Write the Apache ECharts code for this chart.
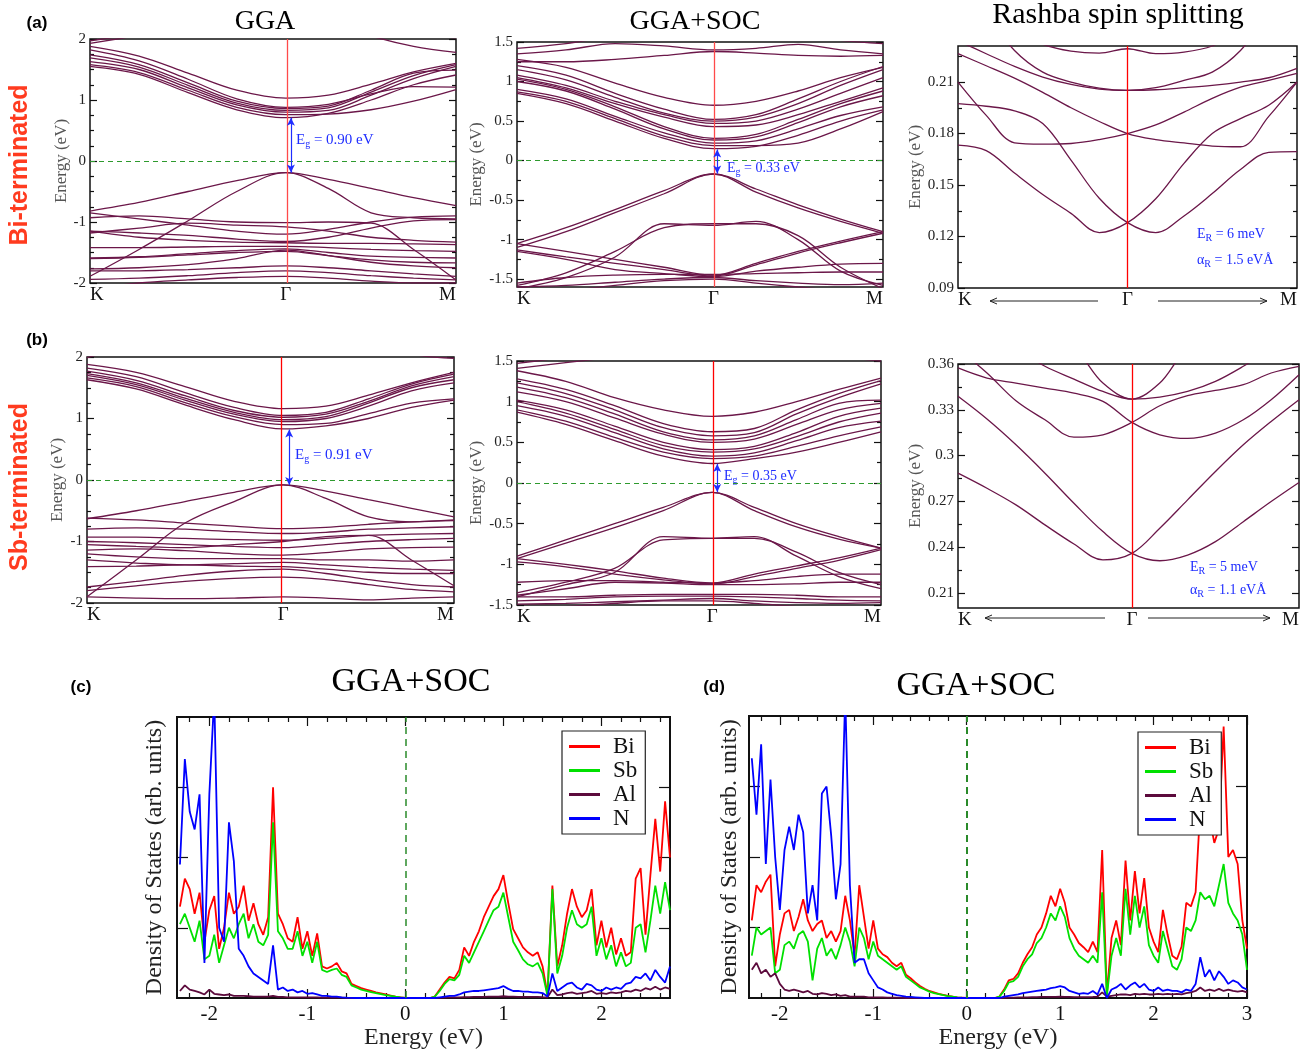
<!DOCTYPE html>
<html><head><meta charset="utf-8">
<script src="https://cdn.jsdelivr.net/npm/echarts@6.0.0/dist/echarts.min.js"></script>
<style>html,body{margin:0;padding:0;background:#fff}#c{width:1306px;height:1053px}</style>
</head><body><div id="c"></div><script>
// ---------------- DATA ----------------
// k-path grids (fraction of K->Gamma->M path)
const kA1 = [0, 0.134, 0.268, 0.401, 0.535, 0.651, 0.768, 0.884, 1];
const kA2 = [0, 0.134, 0.268, 0.402, 0.537, 0.653, 0.768, 0.884, 1];
const kB1 = [0, 0.134, 0.267, 0.401, 0.5345, 0.651, 0.767, 0.884, 1];
const kB2 = [0, 0.134, 0.268, 0.402, 0.5365, 0.652, 0.768, 0.884, 1];
const kA3 = [0, 0.0833, 0.1667, 0.25, 0.3333, 0.4167, 0.5, 0.5833, 0.6667, 0.75, 0.8333, 0.9167, 1];
const kB3 = [0, 0.085, 0.17, 0.255, 0.34, 0.425, 0.51, 0.5917, 0.6733, 0.755, 0.8367, 0.9183, 1];
const gammaA1 = 0.535, gammaA2 = 0.537, gammaA3 = 0.5, gammaB1 = 0.5345, gammaB2 = 0.5365, gammaB3 = 0.51;
const kLabels = ['K', 'Γ', 'M'];

// (a) Bi-terminated, GGA bands (eV)
const bandsA1 = [
 [1.55, 1.42, 1.12, 0.84, 0.71, 0.78, 1.00, 1.25, 1.41],
 [1.58, 1.45, 1.16, 0.88, 0.76, 0.77, 0.84, 0.98, 1.17],
 [1.63, 1.50, 1.20, 0.92, 0.80, 0.83, 1.08, 1.35, 1.55],
 [1.69, 1.54, 1.24, 0.95, 0.83, 0.87, 1.13, 1.40, 1.58],
 [1.74, 1.58, 1.28, 0.98, 0.86, 0.90, 1.16, 1.44, 1.49],
 [1.82, 1.64, 1.34, 1.02, 0.88, 0.93, 1.10, 1.22, 1.21],
 [1.88, 1.72, 1.44, 1.16, 1.03, 1.08, 1.26, 1.46, 1.60],
 [1.93, 2.06, 2.20, 2.30, 2.35, 2.30, 2.05, 1.88, 1.78],
 [1.97, 2.10, 2.30, 2.40, 2.45, 2.40, 2.30, 2.10, 2.02],
 [-0.82, -0.68, -0.50, -0.32, -0.19, -0.30, -0.45, -0.60, -0.73],
 [-1.89, -1.45, -0.98, -0.50, -0.19, -0.45, -0.85, -0.93, -0.95],
 [-0.93, -0.90, -0.95, -1.00, -1.01, -1.00, -1.02, -1.45, -1.95],
 [-0.85, -0.95, -1.05, -1.15, -1.20, -1.12, -1.00, -0.92, -0.90],
 [-1.15, -1.18, -1.22, -1.28, -1.32, -1.25, -1.10, -0.98, -0.96],
 [-1.15, -1.25, -1.30, -1.33, -1.34, -1.35, -1.35, -1.36, -1.37],
 [-1.42, -1.42, -1.41, -1.40, -1.40, -1.42, -1.45, -1.47, -1.48],
 [-1.59, -1.57, -1.52, -1.47, -1.44, -1.50, -1.56, -1.58, -1.59],
 [-1.60, -1.58, -1.54, -1.50, -1.48, -1.55, -1.62, -1.66, -1.67],
 [-1.77, -1.75, -1.70, -1.60, -1.46, -1.55, -1.66, -1.72, -1.75],
 [-1.80, -1.80, -1.78, -1.75, -1.72, -1.75, -1.80, -1.85, -1.89],
 [-1.94, -1.92, -1.88, -1.83, -1.80, -1.83, -1.88, -1.92, -1.95],
 [-2.10, -2.00, -1.95, -1.91, -1.89, -1.92, -1.97, -2.00, -2.00],
 [-1.18, -1.10, -1.02, -1.05, -1.08, -1.15, -1.25, -1.30, -1.33]
];
// (a) GGA+SOC bands
const bandsA2 = [
 [0.85, 0.72, 0.50, 0.28, 0.15, 0.18, 0.32, 0.50, 0.64],
 [0.87, 0.75, 0.53, 0.31, 0.19, 0.19, 0.22, 0.40, 0.62],
 [0.90, 0.78, 0.56, 0.35, 0.22, 0.25, 0.40, 0.57, 0.68],
 [1.00, 0.88, 0.65, 0.40, 0.26, 0.30, 0.48, 0.68, 0.82],
 [1.03, 0.90, 0.68, 0.43, 0.28, 0.33, 0.52, 0.72, 0.88],
 [1.05, 0.92, 0.72, 0.55, 0.43, 0.45, 0.58, 0.75, 0.92],
 [1.08, 0.95, 0.75, 0.58, 0.47, 0.50, 0.65, 0.85, 1.05],
 [1.15, 1.02, 0.80, 0.60, 0.50, 0.55, 0.72, 0.95, 1.15],
 [1.20, 1.08, 0.85, 0.65, 0.52, 0.58, 0.78, 1.00, 1.19],
 [1.28, 1.18, 0.98, 0.80, 0.70, 0.75, 0.88, 1.05, 1.18],
 [1.25, 1.25, 1.28, 1.33, 1.38, 1.36, 1.33, 1.32, 1.33],
 [1.35, 1.40, 1.48, 1.45, 1.40, 1.42, 1.47, 1.40, 1.35],
 [1.42, 1.48, 1.58, 1.65, 1.68, 1.65, 1.60, 1.52, 1.48],
 [-1.05, -0.85, -0.62, -0.38, -0.17, -0.36, -0.56, -0.74, -0.90],
 [-1.10, -0.90, -0.66, -0.42, -0.17, -0.40, -0.60, -0.77, -0.92],
 [-1.58, -1.42, -1.15, -0.85, -0.80, -0.80, -0.95, -1.35, -1.62],
 [-1.62, -1.48, -1.22, -0.80, -0.82, -0.77, -1.00, -1.40, -1.58],
 [-1.05, -1.15, -1.25, -1.35, -1.45, -1.30, -1.15, -1.02, -0.90],
 [-1.13, -1.22, -1.30, -1.38, -1.46, -1.32, -1.17, -1.04, -0.92],
 [-1.15, -1.25, -1.38, -1.43, -1.47, -1.40, -1.35, -1.31, -1.30],
 [-1.55, -1.48, -1.45, -1.44, -1.44, -1.43, -1.42, -1.41, -1.41],
 [-1.60, -1.58, -1.54, -1.50, -1.48, -1.52, -1.55, -1.57, -1.55],
 [-1.70, -1.65, -1.58, -1.52, -1.50, -1.55, -1.60, -1.65, -1.70]
];
// (a) Rashba zoom bands
const bandsA3 = [
 [0.1732, 0.1700, 0.1570, 0.1445, 0.1335, 0.1223, 0.1281, 0.1420, 0.1626, 0.1800, 0.1887, 0.1965, 0.2100],
 [0.1974, 0.1959, 0.1932, 0.1858, 0.1645, 0.1423, 0.1281, 0.1223, 0.1320, 0.1450, 0.1590, 0.1690, 0.1694],
 [0.2100, 0.1906, 0.1746, 0.1738, 0.1742, 0.1765, 0.1800, 0.1850, 0.1925, 0.2005, 0.2070, 0.2110, 0.2150],
 [0.2265, 0.2195, 0.2123, 0.2040, 0.1950, 0.1870, 0.1800, 0.1765, 0.1745, 0.1727, 0.1723, 0.1900, 0.2100],
 [0.2340, 0.2265, 0.2191, 0.2129, 0.2086, 0.2059, 0.2052, 0.2055, 0.2067, 0.2081, 0.2100, 0.2125, 0.2180],
 [0.2800, 0.2500, 0.2284, 0.2158, 0.2100, 0.2065, 0.2052, 0.2067, 0.2110, 0.2158, 0.2284, 0.2500, 0.2700],
 [0.2600, 0.2500, 0.2400, 0.2320, 0.2280, 0.2268, 0.2294, 0.2265, 0.2274, 0.2310, 0.2400, 0.2500, 0.2600]
];
// (b) Sb-terminated, GGA bands
const bandsB1 = [
 [1.63, 1.48, 1.22, 0.98, 0.83, 0.88, 1.00, 1.18, 1.30],
 [1.66, 1.52, 1.26, 1.03, 0.90, 0.92, 1.08, 1.25, 1.32],
 [1.70, 1.55, 1.30, 1.07, 0.95, 1.00, 1.20, 1.45, 1.58],
 [1.73, 1.58, 1.33, 1.10, 0.98, 1.03, 1.25, 1.50, 1.63],
 [1.77, 1.62, 1.37, 1.13, 1.02, 1.07, 1.28, 1.53, 1.68],
 [1.82, 1.68, 1.42, 1.18, 1.05, 1.10, 1.32, 1.56, 1.72],
 [1.88, 1.75, 1.52, 1.28, 1.16, 1.20, 1.38, 1.58, 1.75],
 [1.99, 2.20, 2.40, 2.50, 2.50, 2.50, 2.30, 2.05, 1.98],
 [-0.63, -0.50, -0.35, -0.20, -0.08, -0.18, -0.32, -0.46, -0.60],
 [-1.90, -1.30, -0.70, -0.35, -0.08, -0.30, -0.60, -0.68, -0.65],
 [-0.62, -0.65, -0.70, -0.75, -0.79, -0.77, -0.72, -0.68, -0.66],
 [-0.80, -0.78, -0.80, -0.84, -0.87, -0.85, -0.80, -0.78, -0.76],
 [-0.93, -0.93, -0.95, -0.97, -0.98, -0.95, -0.90, -0.88, -0.87],
 [-1.00, -1.02, -1.05, -1.08, -1.10, -1.05, -1.00, -0.97, -0.95],
 [-1.14, -1.12, -1.15, -1.20, -1.22, -1.18, -1.12, -1.10, -1.09],
 [-1.20, -1.25, -1.28, -1.28, -1.28, -1.30, -1.30, -1.32, -1.30],
 [-1.30, -1.35, -1.38, -1.36, -1.34, -1.38, -1.42, -1.45, -1.47],
 [-1.41, -1.40, -1.38, -1.40, -1.41, -1.45, -1.50, -1.52, -1.52],
 [-1.74, -1.65, -1.55, -1.48, -1.45, -1.52, -1.62, -1.70, -1.74],
 [-1.80, -1.72, -1.65, -1.60, -1.58, -1.62, -1.70, -1.78, -1.82],
 [-1.90, -1.92, -1.93, -1.92, -1.90, -1.92, -1.95, -1.92, -1.90],
 [-1.05, -1.08, -1.10, -1.05, -1.00, -0.92, -0.90, -1.30, -1.72]
];
// (b) GGA+SOC bands
const bandsB2 = [
 [0.87, 0.72, 0.52, 0.33, 0.24, 0.30, 0.38, 0.50, 0.63],
 [0.90, 0.76, 0.56, 0.38, 0.30, 0.33, 0.45, 0.58, 0.69],
 [0.95, 0.82, 0.62, 0.42, 0.33, 0.37, 0.52, 0.68, 0.76],
 [1.00, 0.86, 0.66, 0.46, 0.38, 0.42, 0.57, 0.75, 0.86],
 [1.02, 0.90, 0.70, 0.50, 0.41, 0.45, 0.62, 0.82, 0.92],
 [1.12, 1.00, 0.80, 0.60, 0.50, 0.54, 0.72, 0.90, 0.98],
 [1.18, 1.05, 0.85, 0.63, 0.53, 0.58, 0.78, 0.98, 1.02],
 [1.23, 1.10, 0.90, 0.68, 0.58, 0.62, 0.85, 1.05, 1.22],
 [1.28, 1.15, 0.95, 0.73, 0.63, 0.67, 0.90, 1.10, 1.26],
 [1.38, 1.25, 1.05, 0.90, 0.82, 0.87, 1.00, 1.15, 1.29],
 [1.41, 1.48, 1.55, 1.62, 1.66, 1.64, 1.60, 1.55, 1.50],
 [1.47, 1.55, 1.65, 1.72, 1.75, 1.72, 1.68, 1.60, 1.55],
 [-0.90, -0.70, -0.50, -0.30, -0.115, -0.30, -0.50, -0.66, -0.80],
 [-0.93, -0.74, -0.55, -0.34, -0.115, -0.34, -0.54, -0.69, -0.80],
 [-1.35, -1.22, -1.05, -0.70, -0.68, -0.68, -0.85, -1.10, -1.25],
 [-1.40, -1.25, -1.10, -0.66, -0.68, -0.66, -0.90, -1.15, -1.30],
 [-0.93, -1.00, -1.08, -1.17, -1.23, -1.12, -1.02, -0.92, -0.80],
 [-0.97, -1.03, -1.12, -1.19, -1.24, -1.15, -1.05, -0.95, -0.82],
 [-1.22, -1.20, -1.20, -1.22, -1.23, -1.20, -1.15, -1.12, -1.12],
 [-1.38, -1.30, -1.22, -1.23, -1.25, -1.25, -1.24, -1.22, -1.22],
 [-1.40, -1.40, -1.38, -1.37, -1.37, -1.37, -1.38, -1.40, -1.40],
 [-1.45, -1.43, -1.40, -1.39, -1.39, -1.40, -1.42, -1.44, -1.45],
 [-1.49, -1.48, -1.46, -1.44, -1.42, -1.45, -1.47, -1.48, -1.47],
 [-1.55, -1.52, -1.48, -1.45, -1.45, -1.48, -1.52, -1.55, -1.55]
];
// (b) Rashba zoom bands
const bandsB3 = [
 [0.2884, 0.2785, 0.2676, 0.2545, 0.2420, 0.2315, 0.2358, 0.2523, 0.2709, 0.2895, 0.3070, 0.3223, 0.3366],
 [0.3388, 0.3239, 0.3070, 0.2884, 0.2687, 0.2501, 0.2358, 0.2310, 0.2347, 0.2435, 0.2566, 0.2698, 0.2823],
 [0.3700, 0.3541, 0.3359, 0.3234, 0.3120, 0.3136, 0.3217, 0.3326, 0.3392, 0.3427, 0.3464, 0.3541, 0.3585],
 [0.3574, 0.3508, 0.3475, 0.3442, 0.3409, 0.3355, 0.3217, 0.3136, 0.3112, 0.3147, 0.3234, 0.3366, 0.3530],
 [0.3800, 0.3750, 0.3700, 0.3585, 0.3501, 0.3420, 0.3370, 0.3383, 0.3420, 0.3486, 0.3585, 0.3700, 0.3800],
 [0.4000, 0.3900, 0.3800, 0.3750, 0.3700, 0.3475, 0.3370, 0.3475, 0.3700, 0.3750, 0.3800, 0.3900, 0.4000]
];
// Eg arrows: [k, E_top, E_bottom]
const egA1 = [0.549, 0.71, -0.19], egA2 = [0.547, 0.14, -0.165], egB1 = [0.551, 0.82, -0.08], egB2 = [0.55, 0.235, -0.11];

// Tick labels
const ticksA1 = [-2, -1, 0, 1, 2];
const ticksA2 = [-1.5, -1, -0.5, 0, 0.5, 1, 1.5];
const ticksA3 = [0.09, 0.12, 0.15, 0.18, 0.21];
const ticksB3 = [0.21, 0.24, 0.27, 0.3, 0.33, 0.36];
const ticksDosC = [-2, -1, 0, 1, 2];
const ticksDosD = [-2, -1, 0, 1, 2, 3];
const ticksDosY = [1, 2, 3];

// DOS energy grid (eV), step 0.05
const dosStartC = -2.30, dosStartD = -2.30, dosStep = 0.05;
// (c) Bi-terminated PDOS
const dosBiC = [1.3,1.7,1.55,1.2,1.5,0.8,1.25,1.45,0.7,1.0, 1.5,1.2,1.3,1.6,1.1,1.35,1.05,0.9,1.15,3.0,
 1.2,1.05,0.85,0.8,1.15,0.7,0.95,0.6,0.92,0.45, 0.42,0.45,0.5,0.38,0.35,0.2,0.17,0.14,0.12,0.1,
 0.08,0.065,0.05,0.035,0.02,0.01,0,0,0,0, 0,0,0.02,0.12,0.22,0.3,0.28,0.4,0.72,0.6,
 0.8,0.95,1.15,1.3,1.45,1.55,1.75,1.35,0.98,0.85, 0.72,0.65,0.6,0.65,0.45,0.05,1.6,0.45,0.75,1.2,
 1.55,1.3,1.15,1.25,1.55,0.75,1.1,0.72,1.0,0.62, 0.85,0.6,0.65,1.7,1.85,0.9,1.75,2.55,1.8,2.8,2.0];
const dosSbC = [1.05,1.2,1.0,0.8,1.1,0.55,0.6,0.9,0.5,0.75, 1.0,0.85,1.05,1.2,0.85,1.05,0.8,0.75,0.9,2.5,
 0.95,0.85,0.7,0.7,0.95,0.6,0.8,0.5,0.8,0.4, 0.37,0.4,0.42,0.33,0.3,0.18,0.15,0.12,0.1,0.085,
 0.07,0.055,0.04,0.03,0.018,0.008,0,0,0,0, 0,0,0.02,0.1,0.2,0.27,0.25,0.33,0.6,0.5,
 0.65,0.8,0.95,1.1,1.25,1.3,1.5,1.15,0.8,0.68, 0.55,0.48,0.45,0.5,0.35,0.03,1.55,0.35,0.6,1.0,
 1.25,1.05,1.0,1.05,1.3,0.6,0.85,0.55,0.75,0.45, 0.65,0.45,0.5,1.0,1.05,0.65,1.1,1.6,1.2,1.65,1.25];
const dosAlC = [0.1,0.18,0.12,0.1,0.08,0.05,0.12,0.06,0.05,0.04, 0.05,0.03,0.03,0.03,0.025,0.02,0.02,0.02,0.02,0.03,
 0.015,0.015,0.01,0.01,0.01,0.01,0.01,0.008,0.008,0.005, 0.005,0.005,0.005,0.005,0.003,0,0,0,0,0,
 0,0,0,0,0,0,0,0,0,0, 0,0,0,0.003,0.005,0.008,0.008,0.01,0.012,0.012,
 0.015,0.015,0.015,0.02,0.02,0.02,0.025,0.02,0.02,0.015, 0.015,0.015,0.015,0.015,0.012,0.01,0.12,0.04,0.05,0.07,
 0.08,0.06,0.07,0.08,0.1,0.06,0.07,0.06,0.08,0.07, 0.08,0.1,0.09,0.12,0.1,0.14,0.12,0.16,0.12,0.15,0.13];
const dosNC = [1.9,3.4,2.65,2.4,2.9,0.5,2.9,4.3,1.0,0.8, 2.5,1.95,0.7,0.6,0.45,0.35,0.3,0.25,0.2,0.75,
 0.12,0.15,0.1,0.12,0.08,0.1,0.06,0.07,0.05,0.03, 0.03,0.02,0.02,0.01,0.005,0.003,0,0,0,0,
 0,0,0,0,0,0,0,0,0,0, 0,0,0,0.01,0.02,0.03,0.03,0.05,0.08,0.09,
 0.1,0.1,0.11,0.12,0.13,0.14,0.17,0.13,0.1,0.1, 0.09,0.09,0.08,0.08,0.07,0.02,0.35,0.1,0.15,0.2,
 0.22,0.15,0.12,0.2,0.18,0.12,0.1,0.15,0.12,0.15, 0.13,0.2,0.22,0.3,0.28,0.35,0.25,0.4,0.3,0.22,0.45];
// (d) Sb-terminated PDOS
const dosBiD = [1.1,1.6,1.5,1.65,1.75,0.45,0.9,1.2,1.25,0.95, 1.15,1.4,1.1,0.95,1.05,1.1,0.85,0.95,0.8,0.95,
 1.45,1.1,0.6,1.6,1.15,0.7,1.1,0.7,0.62,0.58, 0.5,0.45,0.5,0.33,0.28,0.22,0.17,0.13,0.1,0.08,
 0.06,0.045,0.03,0.02,0.01,0.005,0,0,0,0, 0,0,0,0.02,0.12,0.25,0.27,0.35,0.5,0.62,
 0.72,0.9,1.0,1.2,1.45,1.3,1.55,1.35,1.0,0.9, 0.78,0.72,0.65,0.8,0.65,2.1,0.05,0.85,1.1,0.75,
 1.95,1.1,1.8,1.2,1.7,1.0,0.8,0.65,1.25,0.9, 0.6,0.55,0.73,1.35,1.3,1.5,2.7,2.4,2.55,2.2,
 2.4,3.85,2.0,2.1,1.9,1.1,0.7];
const dosSbD = [0.6,1.0,0.9,0.95,1.0,0.35,0.4,0.75,0.8,0.7, 0.9,0.95,0.8,0.25,0.7,0.85,0.6,0.7,0.55,0.75,
 1.0,0.8,0.45,1.0,0.85,0.55,0.8,0.6,0.55,0.5, 0.45,0.4,0.45,0.3,0.25,0.2,0.15,0.12,0.09,0.07,
 0.055,0.04,0.028,0.018,0.01,0.004,0,0,0,0, 0,0,0,0.02,0.1,0.22,0.24,0.3,0.45,0.55,
 0.62,0.78,0.85,1.0,1.2,1.1,1.3,1.15,0.85,0.7, 0.6,0.55,0.5,0.6,0.5,1.5,0.03,0.6,0.85,0.6,
 1.55,0.9,1.45,1.0,1.3,0.75,0.6,0.5,0.95,0.7, 0.45,0.4,0.55,1.0,0.95,1.1,1.5,1.4,1.45,1.3,
 1.6,1.9,1.35,1.2,1.1,0.9,0.4];
const dosAlD = [0.4,0.5,0.35,0.4,0.3,0.35,0.2,0.12,0.1,0.12, 0.1,0.08,0.1,0.06,0.05,0.07,0.06,0.04,0.05,0.03,
 0.04,0.02,0.02,0.02,0.02,0.01,0.01,0.01,0.008,0.005, 0.005,0.004,0.003,0,0,0,0,0,0,0,
 0,0,0,0,0,0,0,0,0,0, 0,0,0,0,0.003,0.005,0.005,0.008,0.01,0.01,
 0.012,0.012,0.015,0.015,0.015,0.015,0.02,0.015,0.015,0.012, 0.012,0.012,0.012,0.015,0.02,0.08,0.02,0.03,0.04,0.05,
 0.05,0.04,0.06,0.05,0.06,0.05,0.05,0.06,0.05,0.06, 0.05,0.06,0.05,0.07,0.08,0.1,0.15,0.1,0.12,0.1,
 0.13,0.1,0.12,0.1,0.09,0.1,0.08];
const dosND = [3.4,2.6,3.6,1.9,3.1,2.0,1.25,2.1,2.43,2.1, 2.6,2.35,1.2,1.6,1.1,2.9,3.0,2.3,1.4,1.9,
 4.3,1.6,0.5,0.55,0.55,0.35,0.25,0.15,0.12,0.08, 0.06,0.04,0.03,0.02,0.015,0.01,0.005,0,0,0,
 0,0,0,0,0,0,0,0,0,0, 0,0,0,0,0.02,0.03,0.04,0.05,0.07,0.08,
 0.09,0.1,0.11,0.12,0.14,0.15,0.17,0.15,0.1,0.08, 0.06,0.07,0.06,0.1,0.05,0.2,0.0,0.12,0.15,0.2,
 0.12,0.18,0.22,0.15,0.2,0.12,0.1,0.15,0.1,0.12, 0.1,0.1,0.08,0.12,0.1,0.2,0.58,0.3,0.4,0.25,
 0.38,0.3,0.2,0.25,0.22,0.15,0.12];
const pdosNames = ['Bi', 'Sb', 'Al', 'N'];

// ---------------- STYLE / LAYOUT ----------------
const SERIF = '"Liberation Serif","Times New Roman",serif';
const SANS = '"Liberation Sans",Arial,sans-serif';
const BAND = '#6b1749';
const BLUE = '#1f2dff';
const PDOS_COLORS = ['#ff0000', '#00e000', '#5c0a3c', '#0000ff'];

const grids = [
 {left: 90, top: 39, width: 366, height: 244},
 {left: 517, top: 42, width: 366, height: 245},
 {left: 958, top: 46, width: 339, height: 242},
 {left: 87, top: 357, width: 367, height: 246},
 {left: 517, top: 361, width: 364, height: 244},
 {left: 958, top: 364, width: 341, height: 244},
 {left: 177, top: 717, width: 493, height: 281},
 {left: 749, top: 716, width: 498, height: 282}
].map((g, i) => Object.assign({show: true, borderColor: '#111', borderWidth: i >= 6 ? 2 : 1.5,
  backgroundColor: 'transparent', containLabel: false, outerBoundsMode: 'none'}, g));

const xAxes = [], yAxes = [], series = [];

function steps(a, b, s, skip) {
  const out = [];
  for (let v = a; v <= b + 1e-9; v += s) {
    const r = Math.round(v * 1000) / 1000;
    if (!skip || !skip.some(m => Math.abs(m - r) < 1e-6)) out.push(r);
  }
  return out;
}

function tickAxis(gi, min, max, pos, ticks, len, extra) {
  return Object.assign({
    type: 'value', gridIndex: gi, min, max, position: pos,
    axisLine: {show: false, onZero: false}, splitLine: {show: false},
    axisTick: {show: true, inside: true, length: len, customValues: ticks, lineStyle: {color: '#111', width: 1.2}},
    axisLabel: {show: false}
  }, extra || {});
}

function addBandPanel(gi, kGrid, gamma, bands, yMin, yMax, majors, minors, nameGap, fmt, eg, showZero) {
  xAxes.push({
    type: 'value', gridIndex: gi, min: 0, max: 1, position: 'bottom',
    axisLine: {show: false, onZero: false}, axisTick: {show: false}, splitLine: {show: false},
    axisLabel: {customValues: [0, gamma, 1], formatter: v => (v === 0 ? kLabels[0] : (v === 1 ? kLabels[2] : kLabels[1])),
      fontFamily: SERIF, fontSize: 19, color: '#111', margin: 3, alignMinLabel: 'left', alignMaxLabel: 'right'}
  });
  const xi = xAxes.length - 1;
  yAxes.push(tickAxis(gi, yMin, yMax, 'left', majors, 7, {
    name: 'Energy (eV)', nameLocation: 'middle', nameGap: nameGap,
    nameTextStyle: {fontFamily: SERIF, fontSize: 17, color: '#555'},
    axisLabel: {show: true, customValues: majors, formatter: fmt, fontFamily: SERIF, fontSize: 15, color: '#222', margin: 4}
  }));
  const yi = yAxes.length - 1;
  yAxes.push(tickAxis(gi, yMin, yMax, 'left', minors, 4));
  yAxes.push(tickAxis(gi, yMin, yMax, 'right', majors, 7));
  yAxes.push(tickAxis(gi, yMin, yMax, 'right', minors, 4));
  bands.forEach((b, j) => {
    const s = {
      type: 'line', xAxisIndex: xi, yAxisIndex: yi, data: kGrid.map((k, i) => [k, b[i]]),
      smooth: 0.35, showSymbol: false, silent: true, clip: true, animation: false,
      lineStyle: {color: BAND, width: 1.3}
    };
    if (j === 0) {
      const ml = [{xAxis: gamma, lineStyle: {color: gi < 2 ? '#ff4a4a' : '#ff0000', width: 1.3, type: 'solid'}}];
      if (showZero) ml.push({yAxis: 0, lineStyle: {color: '#2e9a2e', width: 1.2, type: [5, 4]}});
      s.markLine = {silent: true, symbol: 'none', animation: false, label: {show: false}, data: ml};
    }
    series.push(s);
  });
  if (eg) {
    series.push({
      type: 'line', xAxisIndex: xi, yAxisIndex: yi, data: [], silent: true, animation: false,
      markLine: {silent: true, animation: false, symbol: ['arrow', 'arrow'], symbolSize: [6, 8], label: {show: false},
        lineStyle: {color: BLUE, width: 1.2, type: 'solid'},
        data: [[{coord: [eg[0], eg[1]]}, {coord: [eg[0], eg[2]]}]]}
    });
  }
}

const fmtInt = v => String(v);
const fmt2 = v => String(+v.toFixed(2));

addBandPanel(0, kA1, gammaA1, bandsA1, -2, 2, ticksA1, steps(-2, 2, 0.25, ticksA1), 20, fmtInt, egA1, true);
addBandPanel(1, kA2, gammaA2, bandsA2, -1.6, 1.5, ticksA2, steps(-1.5, 1.5, 0.25, ticksA2), 29, fmtInt, egA2, true);
addBandPanel(2, kA3, gammaA3, bandsA3, 0.09, 0.231, ticksA3, steps(0.105, 0.225, 0.03), 33, fmt2, null, false);
addBandPanel(3, kB1, gammaB1, bandsB1, -2, 2, ticksA1, steps(-2, 2, 0.25, ticksA1), 21, fmtInt, egB1, true);
addBandPanel(4, kB2, gammaB2, bandsB2, -1.5, 1.5, ticksA2, steps(-1.5, 1.5, 0.25, ticksA2), 29, fmtInt, egB2, true);
addBandPanel(5, kB3, gammaB3, bandsB3, 0.2, 0.36, ticksB3, steps(0.225, 0.345, 0.03), 32, fmt2, null, false);

function addDosPanel(gi, xMin, xMax, start, majors, curves, nameGapY, dashW) {
  const minors = steps(-2.2, xMax, 0.2, majors).filter(v => v > xMin && v < xMax);
  xAxes.push(tickAxis(gi, xMin, xMax, 'bottom', majors, 9, {
    name: 'Energy (eV)', nameLocation: 'middle', nameGap: 27,
    nameTextStyle: {fontFamily: SERIF, fontSize: 24, color: '#222'},
    axisLabel: {show: true, customValues: majors, formatter: fmtInt, fontFamily: SERIF, fontSize: 21, color: '#111', margin: 6}
  }));
  const xi = xAxes.length - 1;
  xAxes.push(tickAxis(gi, xMin, xMax, 'bottom', minors, 5));
  xAxes.push(tickAxis(gi, xMin, xMax, 'top', majors, 9));
  xAxes.push(tickAxis(gi, xMin, xMax, 'top', minors, 5));
  yAxes.push(tickAxis(gi, 0, 4, 'left', ticksDosY, 11, {
    name: 'Density of States (arb. units)', nameLocation: 'middle', nameGap: nameGapY,
    nameTextStyle: {fontFamily: SERIF, fontSize: 24, color: '#222'}
  }));
  const yi = yAxes.length - 1;
  yAxes.push(tickAxis(gi, 0, 4, 'right', ticksDosY, 11));
  curves.forEach((vals, j) => {
    const s = {
      type: 'line', name: pdosNames[j], xAxisIndex: xi, yAxisIndex: yi,
      data: vals.map((v, i) => [+(start + i * dosStep).toFixed(2), v]),
      showSymbol: false, silent: true, clip: true, animation: false,
      lineStyle: {color: PDOS_COLORS[j], width: 1.8}, itemStyle: {color: PDOS_COLORS[j]}
    };
    if (j === 0) {
      s.markLine = {silent: true, symbol: 'none', animation: false, label: {show: false},
        data: [{xAxis: 0, lineStyle: {color: '#2a8a2a', width: dashW, type: [7, 5]}}]};
    }
    series.push(s);
  });
}
addDosPanel(6, -2.33, 2.7, dosStartC, ticksDosC, [dosBiC, dosSbC, dosAlC, dosNC], 10, 1.5);
addDosPanel(7, -2.33, 3.0, dosStartD, ticksDosD, [dosBiD, dosSbD, dosAlD, dosND], 7, 2);

// ---------------- ANNOTATIONS ----------------
function txt(t, x, y, font, fill, rot) {
  return {type: 'text', x, y, rotation: rot || 0, silent: true,
    style: {text: t, font, fill: fill || '#000', align: 'center', verticalAlign: 'middle', textAlign: 'center', textVerticalAlign: 'middle'}};
}
function subTxt(main, sub, rest, x, y, size) {
  return {type: 'text', x, y, silent: true,
    style: {text: '{m|' + main + '}{s|' + sub + '}{m|' + rest + '}', verticalAlign: 'middle', textVerticalAlign: 'middle',
      rich: {m: {fontFamily: SERIF, fontSize: size, fill: BLUE, color: BLUE},
             s: {fontFamily: SERIF, fontSize: Math.round(size * 0.68), fill: BLUE, color: BLUE, padding: [size * 0.6, 0, 0, 0]}}}};
}
function arrowH(x1, x2, y, left) {
  const tip = left ? x1 : x2, d = left ? 7 : -7;
  return [
    {type: 'line', silent: true, shape: {x1, y1: y, x2, y2: y}, style: {stroke: '#222', lineWidth: 1}},
    {type: 'polyline', silent: true, shape: {points: [[tip + d, y - 3], [tip, y], [tip + d, y + 3]]}, style: {stroke: '#222', lineWidth: 1, fill: null}}
  ];
}
const graphics = [
  txt('(a)', 37, 23, 'bold 17px ' + SANS),
  txt('(b)', 37, 340, 'bold 17px ' + SANS),
  txt('(c)', 81, 687, 'bold 17px ' + SANS),
  txt('(d)', 714, 687, 'bold 17px ' + SANS),
  txt('GGA', 265, 22, '28px ' + SERIF),
  txt('GGA+SOC', 695, 22, '28px ' + SERIF),
  txt('Rashba spin splitting', 1118, 15, '30px ' + SERIF),
  txt('GGA+SOC', 411, 682, '34px ' + SERIF),
  txt('GGA+SOC', 976, 686, '34px ' + SERIF),
  txt('Bi-terminated', 20, 165, 'bold 25px ' + SANS, '#ff3b1f', Math.PI / 2),
  txt('Sb-terminated', 20, 487, 'bold 25px ' + SANS, '#ff3b1f', Math.PI / 2),
  subTxt('E', 'g', ' = 0.90 eV', 296, 140, 15),
  subTxt('E', 'g', ' = 0.33 eV', 727, 168, 14),
  subTxt('E', 'g', ' = 0.91 eV', 295, 455, 15),
  subTxt('E', 'g', ' = 0.35 eV', 724, 476, 14),
  subTxt('E', 'R', ' = 6 meV', 1197, 234, 14),
  subTxt('α', 'R', ' = 1.5 eVÅ', 1197, 260, 14),
  subTxt('E', 'R', ' = 5 meV', 1190, 567, 14),
  subTxt('α', 'R', ' = 1.1 eVÅ', 1190, 590, 14)
].concat(arrowH(990, 1098, 301, true), arrowH(1158, 1267, 301, false),
         arrowH(985, 1105, 618, true), arrowH(1148, 1270, 618, false));

const legendBase = {
  orient: 'vertical', data: pdosNames, selectedMode: false, icon: 'rect',
  itemWidth: 31, itemHeight: 3, itemGap: 1, padding: [4, 8, 4, 7],
  borderColor: '#222', borderWidth: 1.2, backgroundColor: '#fff',
  textStyle: {fontFamily: SERIF, fontSize: 23, color: '#111', lineHeight: 23, padding: [0, 0, 0, 8]}
};

const chart = echarts.init(document.getElementById('c'), null, {renderer: 'canvas'});
chart.setOption({
  animation: false,
  backgroundColor: '#fff',
  grid: grids,
  xAxis: xAxes,
  yAxis: yAxes,
  legend: [Object.assign({left: 562, top: 731}, legendBase), Object.assign({left: 1138, top: 732}, legendBase)],
  graphic: graphics,
  series: series
});
</script></body></html>
